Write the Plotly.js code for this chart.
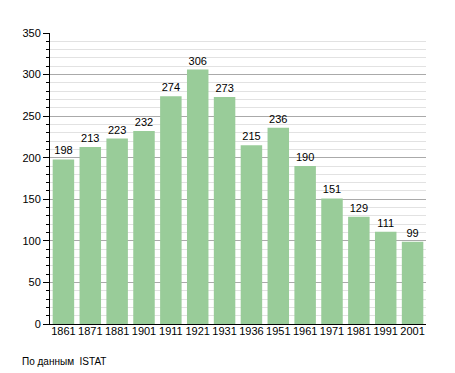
<!DOCTYPE html>
<html><head><meta charset="utf-8">
<script src="https://cdn.plot.ly/plotly-3.0.1.min.js"></script>
<style>html,body{margin:0;padding:0;background:#fff}#c{width:455px;height:373px}</style>
</head><body><div id="c"></div>
<script>
const years = ["1861","1871","1881","1901","1911","1921","1931","1936","1951","1961","1971","1981","1991","2001"];
const population = [198,213,223,232,274,306,273,215,236,190,151,129,111,99];
const sourceNote = "По данным  ISTAT";

Plotly.newPlot('c', [{
  type: 'bar',
  x: years,
  y: population,
  text: population.map(String),
  textposition: 'outside',
  textfont: {family: 'Liberation Sans, Arial, sans-serif', size: 11, color: '#000'},
  marker: {color: '#99cc99'},
  cliponaxis: false,
  hoverinfo: 'none'
}], {
  width: 455, height: 373,
  margin: {l: 50, r: 29, t: 33, b: 49},
  paper_bgcolor: '#fff', plot_bgcolor: '#fff',
  bargap: 0.2,
  showlegend: false,
  font: {family: 'Liberation Sans, Arial, sans-serif', size: 11, color: '#000'},
  xaxis: {
    type: 'category',
    showline: true, linecolor: '#000', linewidth: 1,
    ticks: '', showgrid: false,
    ticklabelstandoff: -3,
    tickfont: {size: 11}
  },
  yaxis: {
    range: [0, 350],
    dtick: 50,
    showline: true, linecolor: '#000', linewidth: 1,
    ticks: 'outside', ticklen: 6, tickcolor: '#000',
    showgrid: true, gridcolor: '#aaaaaa', gridwidth: 1,
    zeroline: false,
    tickfont: {size: 11},
    minor: {dtick: 10, ticks: 'outside', ticklen: 3, tickcolor: '#000', showgrid: true, gridcolor: '#e2e2e2', gridwidth: 1}
  },
  annotations: [{
    text: sourceNote, xref: 'paper', yref: 'paper', x: -0.08, y: -0.13,
    xanchor: 'left', yanchor: 'middle', showarrow: false,
    font: {size: 10, color: '#000'}
  }]
}, {staticPlot: true});
</script></body></html>
